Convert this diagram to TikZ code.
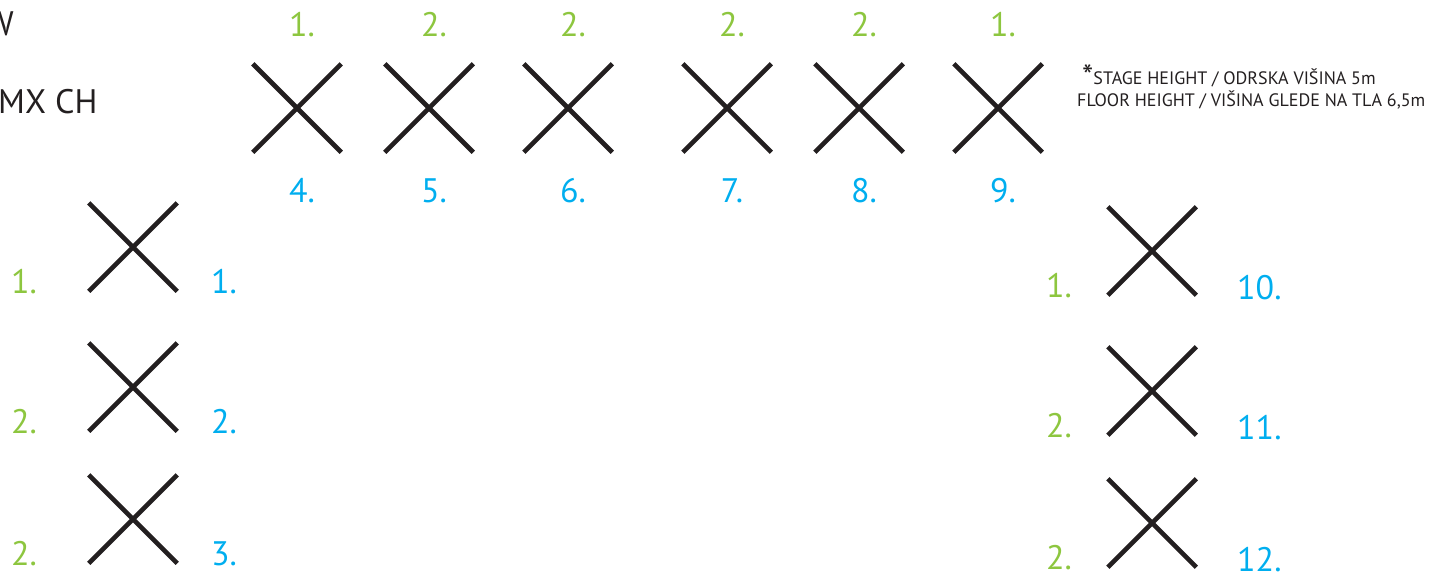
\documentclass[tikz,border=0pt]{standalone}
\usepackage{fontspec}
\setmainfont{PT Sans}
\usetikzlibrary{shapes.misc}
\definecolor{fixgreen}{RGB}{141,198,63}
\definecolor{fixblue}{RGB}{0,174,239}
\definecolor{fixblack}{RGB}{35,31,32}
\tikzset{
  fixture/.style={cross out, draw=fixblack, line width=4.6pt, minimum size=88.5pt, inner sep=0pt, outer sep=0pt},
  chlbl/.style={inner sep=0pt, font=\fontsize{34}{40}\selectfont},
  countlbl/.style={chlbl, text=fixgreen},
  numlbl/.style={chlbl, text=fixblue},
  notelbl/.style={inner sep=0pt, font=\fontsize{18}{22}\selectfont, text=fixblack},
}
\begin{document}
\begin{tikzpicture}[x=1pt,y=-1pt]
\path[use as bounding box, clip] (0,0) rectangle (1437,574);
% heading, cut at the left edge
\node[chlbl, text=fixblack, anchor=base east] (head) at (14,35) {W};
\node[chlbl, text=fixblack, anchor=base west] (chan) at (-2,113) {MX CH};
% note
\node[notelbl, anchor=base west] (stage) at (1082,84) {\raisebox{-3pt}{\fontsize{32}{32}\selectfont *}STAGE HEIGHT / ODRSKA VIŠINA 5m};
\node[notelbl, anchor=base west] (floor) at (1077,106) {FLOOR HEIGHT / VIŠINA GLEDE NA TLA 6,5m};
% top row
\foreach \x/\c/\b in {297/1/4, 429/2/5, 568/2/6, 727/2/7, 859/2/8, 998/1/9} {
  \node[fixture] (fix\b) at (\x,108) {};
  \node[countlbl, anchor=base] (cnt\b) at (\x+5,36) {\c.};
  \node[numlbl, anchor=base] (num\b) at (\x+5,202) {\b.};
}
% left column
\foreach \y/\c/\b in {247/1/1, 387/2/2, 519/2/3} {
  \node[fixture] (fix\b) at (133,\y) {};
  \node[countlbl, anchor=base] (cnt\b) at (24,\y+46) {\c.};
  \node[numlbl, anchor=base] (num\b) at (224,\y+46) {\b.};
}
% right column
\foreach \y/\c/\b in {251/1/10, 391/2/11, 523/2/12} {
  \node[fixture] (fix\b) at (1152,\y) {};
  \node[countlbl, anchor=base] (cnt\b) at (1059,\y+46) {\c.};
  \node[numlbl, anchor=base west] (num\b) at (1237,\y+48) {\b.};
}
\end{tikzpicture}
\end{document}
